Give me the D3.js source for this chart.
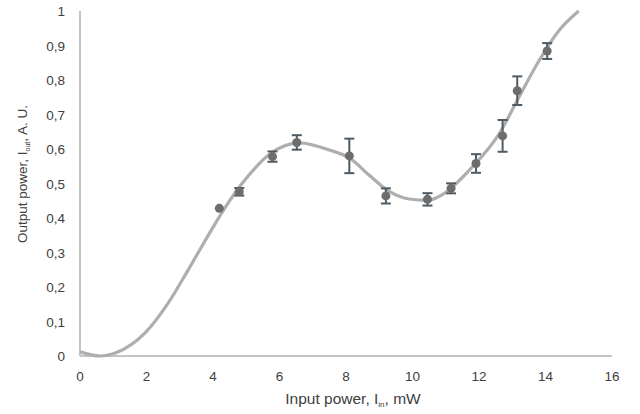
<!DOCTYPE html>
<html>
<head>
<meta charset="utf-8">
<script src="https://cdn.jsdelivr.net/npm/d3@7"></script>
<style>
  body { margin: 0; background: #fff; }
  text { font-family: "Liberation Sans", Arial, sans-serif; fill: #404040; }
</style>
</head>
<body>
<script>
var width = 640;
var height = 414;

// measured points with error bars
var inputPower = [4.19, 4.79, 5.79, 6.52, 8.10, 9.20, 10.45, 11.16, 11.91, 12.71, 13.15, 14.05];
var outputPower = [0.428, 0.476, 0.578, 0.619, 0.580, 0.464, 0.454, 0.486, 0.558, 0.638, 0.769, 0.884];
var errors = [0, 0.011, 0.015, 0.021, 0.05, 0.022, 0.018, 0.0145, 0.027, 0.046, 0.0415, 0.023];

// smooth fit curve
var fitX = [0, 0.6, 1.1, 1.95, 2.65, 3.25, 3.95, 4.35, 5.0, 5.7, 6.6, 7.5, 8.1, 8.7, 9.3, 9.9, 10.45, 10.9, 11.8, 12.6, 13.2, 13.8, 14.4, 15.0];
var fitY = [0.012, 0.0, 0.01, 0.066, 0.153, 0.249, 0.365, 0.428, 0.515, 0.585, 0.618, 0.597, 0.574, 0.524, 0.477, 0.455, 0.451, 0.468, 0.548, 0.643, 0.75, 0.855, 0.943, 1.0];

var xTicks = [0, 2, 4, 6, 8, 10, 12, 14, 16];
var yTicks = [0, 0.1, 0.2, 0.3, 0.4, 0.5, 0.6, 0.7, 0.8, 0.9, 1];

var margin = {left: 80, right: 28, top: 11, bottom: 58};

var svg = d3.select('body').append('svg')
  .attr('width', width)
  .attr('height', height);

var x = d3.scaleLinear().domain([0, 16]).range([margin.left, width - margin.right]);
var y = d3.scaleLinear().domain([0, 1]).range([height - margin.bottom, margin.top]);

var fmt = function(d) { return d3.format('.1~f')(d).replace('.', ','); };

// axis lines
svg.append('line')
  .attr('x1', x(0)).attr('x2', x(16))
  .attr('y1', y(0)).attr('y2', y(0))
  .attr('stroke', '#c4c4c4').attr('stroke-width', 2);
svg.append('line')
  .attr('x1', x(0)).attr('x2', x(0))
  .attr('y1', y(0)).attr('y2', y(1))
  .attr('stroke', '#c4c4c4').attr('stroke-width', 2);

// tick labels
svg.selectAll('.xt').data(xTicks).enter().append('text')
  .attr('x', function(d) { return x(d); })
  .attr('y', y(0) + 25)
  .attr('text-anchor', 'middle')
  .attr('font-size', 13.5)
  .text(function(d) { return d; });

svg.selectAll('.yt').data(yTicks).enter().append('text')
  .attr('x', 65)
  .attr('y', function(d) { return y(d) + 5; })
  .attr('text-anchor', 'end')
  .attr('font-size', 13.5)
  .text(fmt);

// axis titles
var xt = svg.append('text')
  .attr('x', 353).attr('y', 404)
  .attr('text-anchor', 'middle')
  .attr('font-size', 15.5);
xt.append('tspan').text('Input power, I');
xt.append('tspan').attr('font-size', 8).attr('dy', 3).text('in');
xt.append('tspan').attr('dy', -3).text(', mW');

var yt = svg.append('text')
  .attr('transform', 'translate(27,174) rotate(-90)')
  .attr('text-anchor', 'middle')
  .attr('font-size', 13.5);
yt.append('tspan').text('Output power, I');
yt.append('tspan').attr('font-size', 7).attr('dy', 3).text('out');
yt.append('tspan').attr('dy', -3).text(', A. U.');

// fit curve
var line = d3.line()
  .x(function(d) { return x(d[0]); })
  .y(function(d) { return y(d[1]); })
  .curve(d3.curveMonotoneX);

svg.append('path')
  .datum(d3.zip(fitX, fitY))
  .attr('d', line)
  .attr('fill', 'none')
  .attr('stroke', '#aeaeae')
  .attr('stroke-width', 3.2);

// error bars
var pts = inputPower.map(function(v, i) {
  return {x: v, y: outputPower[i], e: errors[i]};
});

var eb = svg.selectAll('.eb').data(pts.filter(function(d) { return d.e > 0; }))
  .enter().append('g')
  .attr('stroke', '#4f5b63')
  .attr('stroke-width', 2);
eb.append('line')
  .attr('x1', function(d) { return x(d.x); })
  .attr('x2', function(d) { return x(d.x); })
  .attr('y1', function(d) { return y(d.y - d.e); })
  .attr('y2', function(d) { return y(d.y + d.e); });
[-1, 1].forEach(function(s) {
  eb.append('line')
    .attr('x1', function(d) { return x(d.x) - 5; })
    .attr('x2', function(d) { return x(d.x) + 5; })
    .attr('y1', function(d) { return y(d.y + s * d.e); })
    .attr('y2', function(d) { return y(d.y + s * d.e); });
});

// points
svg.selectAll('.pt').data(pts).enter().append('circle')
  .attr('cx', function(d) { return x(d.x); })
  .attr('cy', function(d) { return y(d.y); })
  .attr('r', 4.5)
  .attr('fill', '#6d6d6d');
</script>
</body>
</html>
